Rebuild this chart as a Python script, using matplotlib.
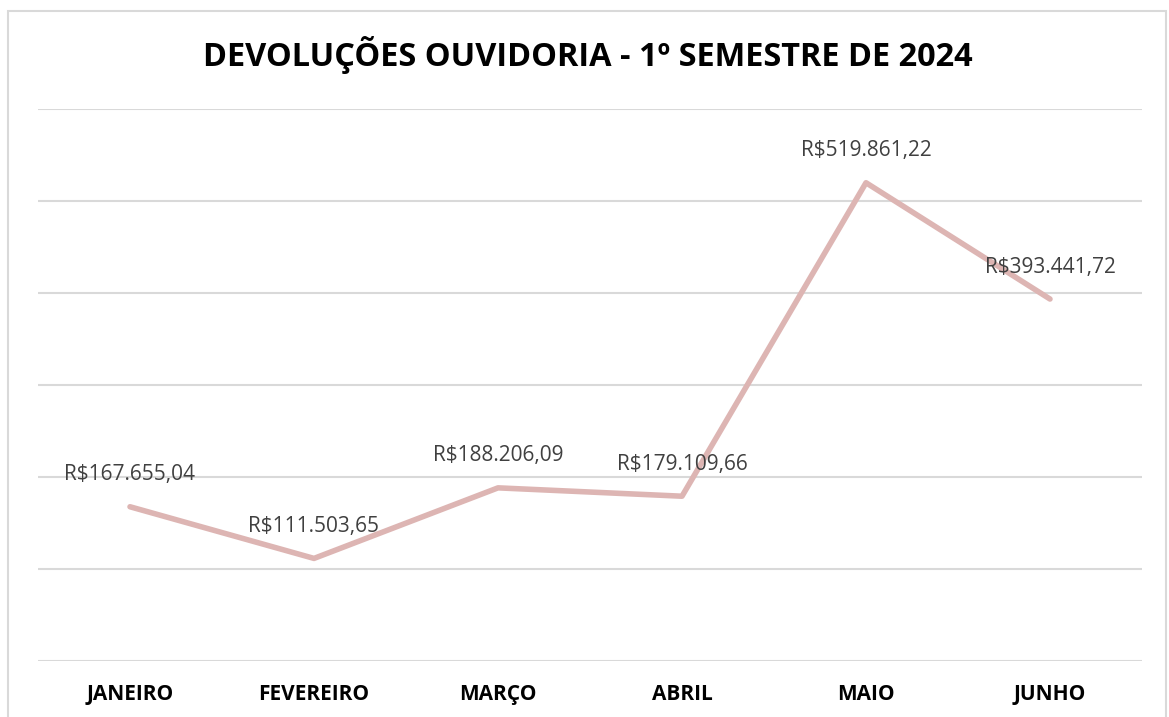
import matplotlib
matplotlib.use("Agg")
import matplotlib.pyplot as plt
from matplotlib.patches import Rectangle

months = ["JANEIRO", "FEVEREIRO", "MARÇO", "ABRIL", "MAIO", "JUNHO"]
values = [167655.04, 111503.65, 188206.09, 179109.66, 519861.22, 393441.72]
labels = ["R$167.655,04", "R$111.503,65", "R$188.206,09", "R$179.109,66",
          "R$519.861,22", "R$393.441,72"]
title = "DEVOLUÇÕES OUVIDORIA - 1º SEMESTRE DE 2024"

plt.rcParams['font.family'] = ['Open Sans', 'DejaVu Sans']

W, H = 1169, 717
fig = plt.figure(figsize=(W / 100, H / 100), dpi=100)
fig.patch.set_facecolor("white")
ax = fig.add_axes([38 / W, (H - 661) / H, (1142 - 38) / W, (661 - 109) / H])

x = list(range(len(months)))
ax.plot(x, values, color="#DDB5B3", lw=4, solid_capstyle="round", solid_joinstyle="round", zorder=3)
ax.set_xlim(-0.5, len(months) - 0.5)
ax.set_ylim(0, 600000)
ax.set_yticks(range(0, 600001, 100000))
ax.yaxis.grid(True, color="#D9D9D9", lw=1.5)
ax.set_axisbelow(True)
ax.tick_params(axis="y", left=False, labelleft=False)
ax.tick_params(axis="x", bottom=False, pad=13)
ax.set_xticks(x)
ax.set_xticklabels(months, fontsize=15, fontweight="bold", color="#000000")
for s in ax.spines.values():
    s.set_visible(False)

for xi, v, lab in zip(x, values, labels):
    ax.annotate(lab, (xi, v), xytext=(0, 23), textcoords="offset points",
                ha="center", va="center", fontsize=15, color="#404040", zorder=4)

fig.text(588 / W, 1 - 55 / H, title, ha="center", va="center", fontsize=23.4,
         fontweight="bold", color="#000000")

fig.patches.append(Rectangle((8 / W, -0.01), (1166 - 8) / W, 1 - 11 / H + 0.01,
                             transform=fig.transFigure, fill=False,
                             edgecolor="#D9D9D9", lw=1.5))

fig.savefig("out.png", dpi=100, facecolor="white")
